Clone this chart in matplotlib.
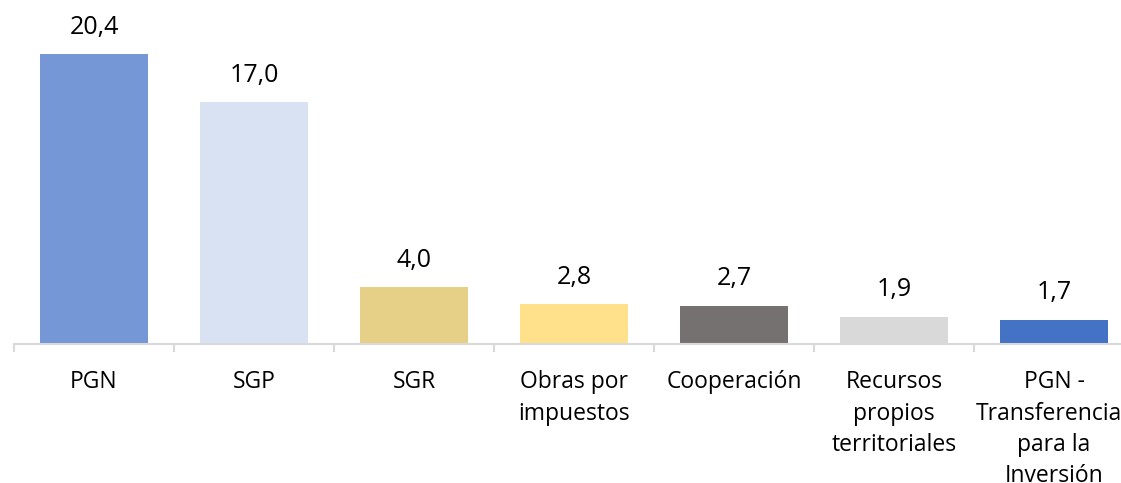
import matplotlib.pyplot as plt
import numpy as np

plt.rcParams['font.family'] = ['Open Sans', 'DejaVu Sans']

categories = ['PGN', 'SGP', 'SGR', 'Obras por\nimpuestos', 'Cooperación',
              'Recursos\npropios\nterritoriales', 'PGN -\nTransferencias\npara la\nInversión']
values = [20.4, 17.0, 4.0, 2.8, 2.7, 1.9, 1.7]
colors = ['#7597D6', '#D9E2F3', '#E6CF86', '#FFE08B', '#767171', '#D9D9D9', '#4472C4']

W, H = 1121, 483
fig = plt.figure(figsize=(W / 100, H / 100), dpi=100)
# axes spans category slots of 160px, starting at x=14, baseline at y=344
ax = fig.add_axes([14 / W, (H - 344) / H, 1120 / W, 341 / H])

x = np.arange(len(categories))
bars = ax.bar(x, values, width=0.67, color=colors, zorder=2)
ax.set_xlim(-0.5, len(categories) - 0.5)
ax.set_ylim(0, 24)

for b, v in zip(bars, values):
    ax.annotate(f'{v:.1f}'.replace('.', ','), (b.get_x() + b.get_width() / 2, v),
                xytext=(0, 10.5), textcoords='offset points', ha='center', va='bottom',
                fontsize=18, color='#000000')

for s in ['top', 'right', 'left']:
    ax.spines[s].set_visible(False)
ax.spines['bottom'].set_color('#D9D9D9')
ax.spines['bottom'].set_linewidth(1.5)
ax.set_yticks([])

ax.set_xticks(np.arange(len(categories) + 1) - 0.5, minor=False)
ax.set_xticklabels([])
ax.tick_params(axis='x', which='major', length=6, width=1.5, color='#D9D9D9')
ax.set_xticks(x, minor=True)
ax.set_xticklabels(categories, minor=True, fontsize=16.5, linespacing=1.4)
ax.tick_params(axis='x', which='minor', length=0, pad=19)

fig.savefig('out.png', dpi=100)
